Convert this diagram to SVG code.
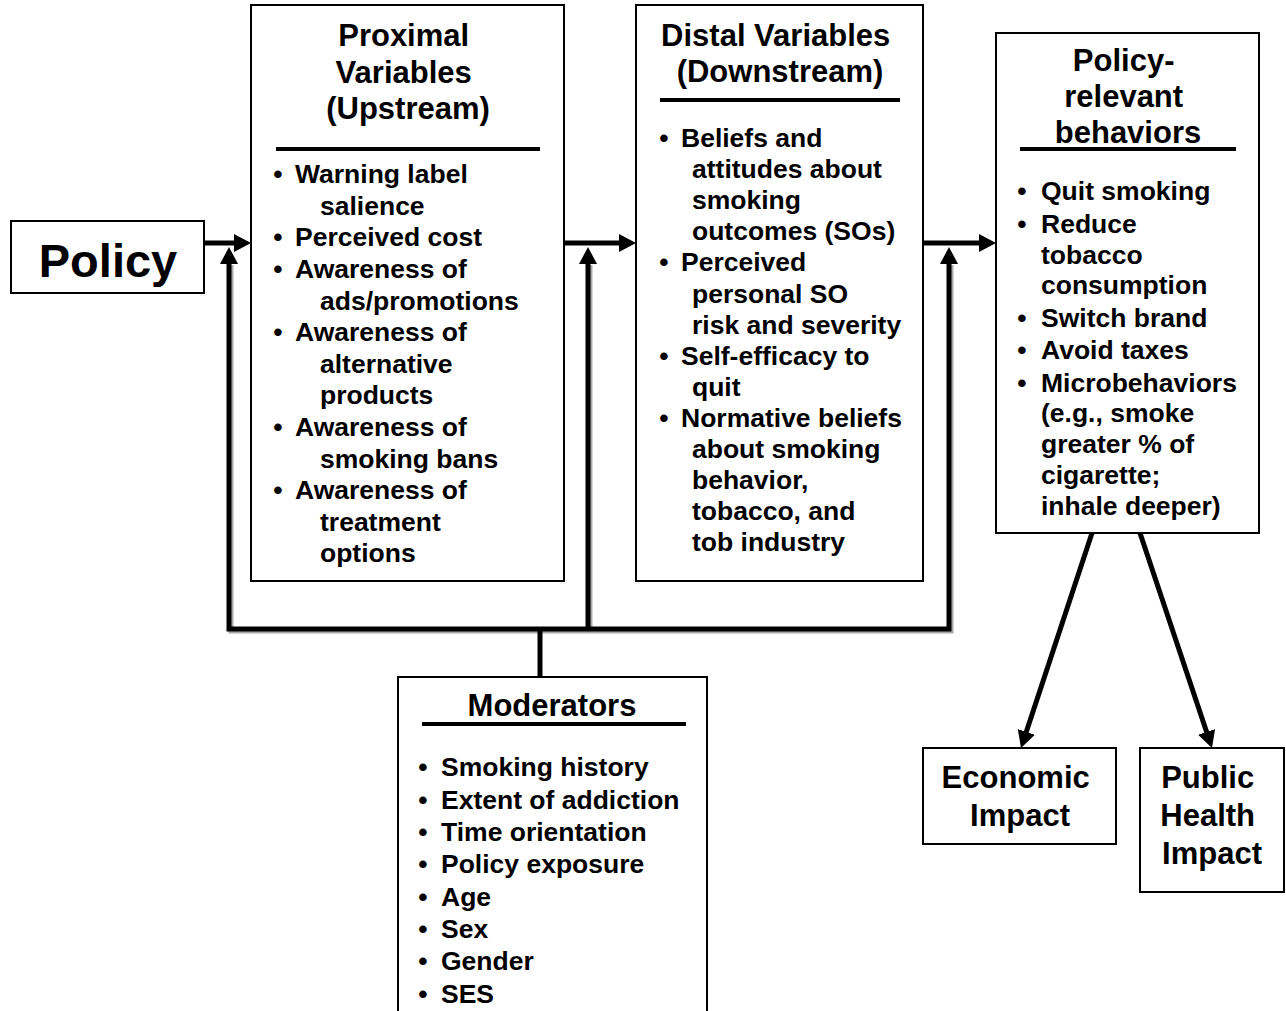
<svg xmlns="http://www.w3.org/2000/svg" width="1286" height="1011" viewBox="0 0 1286 1011">
  <style>
    .box { fill: #fff; stroke: #000; stroke-width: 2; }
    .t { font-family: "Liberation Sans", Arial, Helvetica, sans-serif; font-weight: bold; fill: #000; }
    .title { font-size: 31px; text-anchor: middle; }
    .big { font-size: 47px; text-anchor: middle; }
    .item { font-size: 26.5px; }
    .bul { text-anchor: middle; }
    .rule { stroke: #000; stroke-width: 4; }
    .conn { stroke: #000; stroke-width: 5; fill: none; stroke-linejoin: miter; }
    .shadow { stroke: #a8a8a8; stroke-width: 5; fill: none; }
  </style>
  <defs>
    <marker id="head" markerUnits="userSpaceOnUse" markerWidth="17" markerHeight="18"
            viewBox="0 -9 17 18" refX="1" refY="0" orient="auto-start-reverse">
      <path d="M0,-9 L17,0 L0,9 Z" fill="#000"/>
    </marker>
  </defs>

  <rect width="1286" height="1011" fill="#fff"/>

  <!-- connectors -->
  <g id="connectors">
    <!-- moderator feedback bus: soft drop shadow, then the black line -->
    <path class="shadow" d="M231,265 L231,631 L951,631 L951,265"/>
    <path class="shadow" d="M590,631 L590,265"/>
    <path class="conn" d="M229,263 L229,629 L949,629 L949,263" marker-start="url(#head)" marker-end="url(#head)"/>
    <path class="conn" d="M588,629 L588,263" marker-end="url(#head)"/>
    <path class="conn" d="M540,627 L540,677"/>
    <!-- main flow -->
    <path class="conn" d="M204,243 L235,243" marker-end="url(#head)"/>
    <path class="conn" d="M564,243 L620,243" marker-end="url(#head)"/>
    <path class="conn" d="M923,243 L980,243" marker-end="url(#head)"/>
    <!-- outcomes -->
    <path class="conn" d="M1092,533 L1026,732.8" marker-end="url(#head)"/>
    <path class="conn" d="M1140,533 L1206.9,732.8" marker-end="url(#head)"/>
  </g>

  <g id="policy">
    <rect class="box" x="11" y="221" width="193" height="72"/>
    <text class="t big" x="108" y="277">Policy</text>
  </g>

  <g id="proximal">
    <rect class="box" x="251" y="5" width="313" height="576"/>
    <text class="t title">
      <tspan x="408" y="46">Proximal</tspan>
      <tspan x="408" y="83">Variables</tspan>
      <tspan x="408" y="119">(Upstream)</tspan>
    </text>
    <line class="rule" x1="276" y1="149" x2="540" y2="149"/>
    <text class="t item">
      <tspan class="bul" x="278" y="183">•</tspan><tspan x="295" y="183">Warning label</tspan>
      <tspan x="320" y="214.5">salience</tspan>
      <tspan class="bul" x="278" y="246">•</tspan><tspan x="295" y="246">Perceived cost</tspan>
      <tspan class="bul" x="278" y="278">•</tspan><tspan x="295" y="278">Awareness of</tspan>
      <tspan x="320" y="309.5">ads/promotions</tspan>
      <tspan class="bul" x="278" y="341">•</tspan><tspan x="295" y="341">Awareness of</tspan>
      <tspan x="320" y="372.5">alternative</tspan>
      <tspan x="320" y="404">products</tspan>
      <tspan class="bul" x="278" y="436">•</tspan><tspan x="295" y="436">Awareness of</tspan>
      <tspan x="320" y="467.5">smoking bans</tspan>
      <tspan class="bul" x="278" y="499">•</tspan><tspan x="295" y="499">Awareness of</tspan>
      <tspan x="320" y="530.5">treatment</tspan>
      <tspan x="320" y="562">options</tspan>
    </text>
  </g>

  <g id="distal">
    <rect class="box" x="636" y="5" width="287" height="576"/>
    <text class="t title">
      <tspan x="780" y="46">Distal Variables</tspan>
      <tspan x="780" y="82">(Downstream)</tspan>
    </text>
    <line class="rule" x1="660" y1="100" x2="900" y2="100"/>
    <text class="t item">
      <tspan class="bul" x="664" y="147">•</tspan><tspan x="681" y="147">Beliefs and</tspan>
      <tspan x="692" y="178.1">attitudes about</tspan>
      <tspan x="692" y="209.2">smoking</tspan>
      <tspan x="692" y="240.3">outcomes (SOs)</tspan>
      <tspan class="bul" x="664" y="271.4">•</tspan><tspan x="681" y="271.4">Perceived</tspan>
      <tspan x="692" y="302.5">personal SO</tspan>
      <tspan x="692" y="333.6">risk and severity</tspan>
      <tspan class="bul" x="664" y="364.7">•</tspan><tspan x="681" y="364.7">Self-efficacy to</tspan>
      <tspan x="692" y="395.8">quit</tspan>
      <tspan class="bul" x="664" y="426.9">•</tspan><tspan x="681" y="426.9">Normative beliefs</tspan>
      <tspan x="692" y="458">about smoking</tspan>
      <tspan x="692" y="489.1">behavior,</tspan>
      <tspan x="692" y="520.2">tobacco, and</tspan>
      <tspan x="692" y="551.3">tob industry</tspan>
    </text>
  </g>

  <g id="behaviors">
    <rect class="box" x="996" y="33" width="263" height="500"/>
    <text class="t title">
      <tspan x="1128" y="71">Policy-</tspan>
      <tspan x="1128" y="107">relevant</tspan>
      <tspan x="1128" y="143">behaviors</tspan>
    </text>
    <line class="rule" x1="1020" y1="149" x2="1236" y2="149"/>
    <text class="t item">
      <tspan class="bul" x="1022" y="200">•</tspan><tspan x="1041" y="200">Quit smoking</tspan>
      <tspan class="bul" x="1022" y="233">•</tspan><tspan x="1041" y="233">Reduce</tspan>
      <tspan x="1041" y="264">tobacco</tspan>
      <tspan x="1041" y="294">consumption</tspan>
      <tspan class="bul" x="1022" y="327">•</tspan><tspan x="1041" y="327">Switch brand</tspan>
      <tspan class="bul" x="1022" y="359">•</tspan><tspan x="1041" y="359">Avoid taxes</tspan>
      <tspan class="bul" x="1022" y="392">•</tspan><tspan x="1041" y="392">Microbehaviors</tspan>
      <tspan x="1041" y="422">(e.g., smoke</tspan>
      <tspan x="1041" y="453">greater % of</tspan>
      <tspan x="1041" y="484">cigarette;</tspan>
      <tspan x="1041" y="515">inhale deeper)</tspan>
    </text>
  </g>

  <g id="moderators">
    <rect class="box" x="398" y="677" width="309" height="345"/>
    <text class="t title" x="552" y="716">Moderators</text>
    <line class="rule" x1="422" y1="724" x2="686" y2="724"/>
    <text class="t item">
      <tspan class="bul" x="423" y="776">•</tspan><tspan x="441" y="776">Smoking history</tspan>
      <tspan class="bul" x="423" y="808.5">•</tspan><tspan x="441" y="808.5">Extent of addiction</tspan>
      <tspan class="bul" x="423" y="841">•</tspan><tspan x="441" y="841">Time orientation</tspan>
      <tspan class="bul" x="423" y="873">•</tspan><tspan x="441" y="873">Policy exposure</tspan>
      <tspan class="bul" x="423" y="905.5">•</tspan><tspan x="441" y="905.5">Age</tspan>
      <tspan class="bul" x="423" y="938">•</tspan><tspan x="441" y="938">Sex</tspan>
      <tspan class="bul" x="423" y="970">•</tspan><tspan x="441" y="970">Gender</tspan>
      <tspan class="bul" x="423" y="1002.5">•</tspan><tspan x="441" y="1002.5">SES</tspan>
    </text>
  </g>

  <g id="economic">
    <rect class="box" x="923" y="748" width="193" height="96"/>
    <text class="t title">
      <tspan x="1020" y="788">Economic</tspan>
      <tspan x="1020" y="826">Impact</tspan>
    </text>
  </g>

  <g id="health">
    <rect class="box" x="1140" y="748" width="144" height="144"/>
    <text class="t title">
      <tspan x="1212" y="788">Public</tspan>
      <tspan x="1212" y="826">Health</tspan>
      <tspan x="1212" y="864">Impact</tspan>
    </text>
  </g>
</svg>
